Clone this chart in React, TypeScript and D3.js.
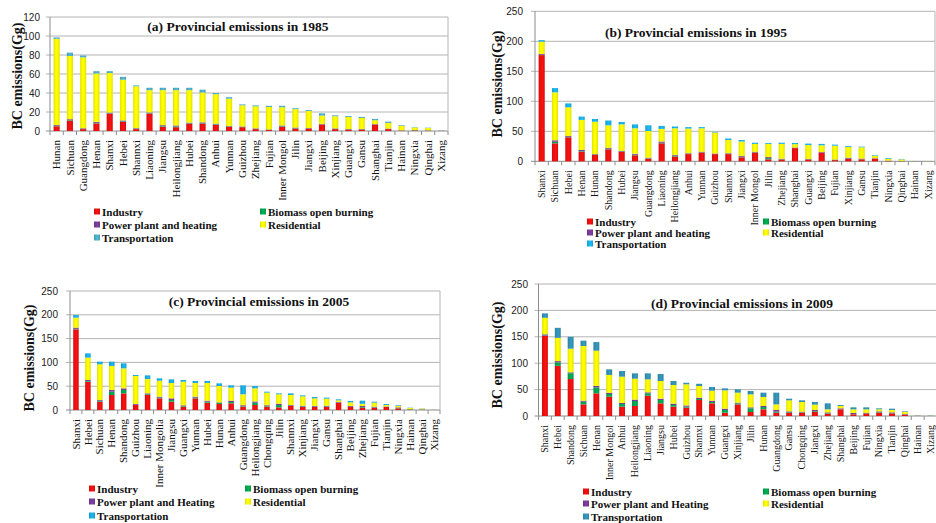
import React from 'react';
import * as d3 from 'd3';

const KEYS = ['industry', 'biomass', 'power', 'residential', 'transport'];
const BASE_COLORS: Record<string, string> = {
  industry: '#F01010',
  biomass: '#00A84F',
  power: '#7A3C9A',
  residential: '#FFFF00',
};

// ---------- (a) 1985 ----------
const catsA = ['Hunan', 'Sichuan', 'Guangdong', 'Henan', 'Shanxi', 'Hebei', 'Shannxi', 'Liaoning', 'Jiangsu', 'Heilongjiang', 'Hubei', 'Shandong', 'Anhui', 'Yunnan', 'Guizhou', 'Zhejiang', 'Fujian', 'Inner Mongol', 'Jilin', 'Jiangxi', 'Beijing', 'Xinjiang', 'Guangxi', 'Gansu', 'Shanghai', 'Tianjin', 'Hainan', 'Ningxia', 'Qinghai', 'Xizang'];
const industryA = [5, 11, 2, 8, 18, 9.5, 2, 18, 4.5, 4, 7.5, 7.5, 6.5, 4.5, 4, 2, 1, 4.5, 2.5, 2.5, 6.7, 2, 1.5, 1.5, 6.7, 2, 0.5, 0.5, 0.3, 0.1];
const biomassA = [0.5, 0.5, 0.3, 0.6, 0.4, 0.6, 0.4, 0.5, 0.6, 0.8, 0.5, 0.6, 0.5, 0.4, 0.3, 0.3, 0.3, 0.5, 0.5, 0.3, 0.2, 0.4, 0.3, 0.3, 0.1, 0.2, 0.2, 0.3, 0.3, 0.1];
const powerA = [0.8, 0.9, 0.6, 1, 1, 1, 0.6, 1, 1, 1, 0.8, 1, 0.7, 0.5, 0.5, 0.5, 0.4, 0.8, 0.6, 0.4, 0.6, 0.4, 0.3, 0.4, 0.5, 0.4, 0.1, 0.2, 0.2, 0.05];
const residentialA = [90.7, 66.6, 74.6, 50.9, 41.6, 42.9, 44, 23.5, 36.9, 37.2, 34.2, 31.4, 31, 28.6, 22.2, 23.2, 23.6, 19.2, 19.4, 17.8, 8.7, 12.7, 12.7, 11.5, 4, 5.9, 4.8, 2.8, 2.3, 0.05];
const transportA = [1.5, 3.5, 2, 2.5, 2, 3, 1, 2.5, 2.5, 2.5, 2.5, 3, 1.3, 1.6, 1, 1, 1.2, 1.5, 1, 1, 2.4, 1, 1, 1.1, 1.4, 1.4, 0.7, 0.4, 0.4, 0.2];

// ---------- (b) 1995 ----------
const catsB = ['Shanxi', 'Sichuan', 'Hebei', 'Henan', 'Hunan', 'Shandong', 'Hubei', 'Jiangsu', 'Guangdong', 'Liaoning', 'Heilongjiang', 'Anhui', 'Yunnan', 'Guizhou', 'Shannxi', 'Jiangxi', 'Inner Mongol', 'Jilin', 'Zhejiang', 'Shanghai', 'Guangxi', 'Beijing', 'Fujian', 'Xinjiang', 'Gansu', 'Tianjin', 'Ningxia', 'Qinghai', 'Hainan', 'Xizang'];
const industryB = [177, 30, 40, 16, 10.5, 20, 15.5, 10, 4.4, 30, 8, 12, 14.5, 12, 12, 6.7, 14.5, 3.3, 3, 22, 3, 14.5, 2, 3.9, 3.3, 4.4, 0.5, 0.3, 0.1, 0.05];
const biomassB = [0.5, 2.5, 0.5, 1, 0.5, 1, 0.8, 1, 0.6, 1, 1.5, 0.5, 0.5, 0.3, 0.5, 1, 0.5, 2, 0.5, 0.2, 0.5, 0.3, 0.4, 0.6, 0.4, 0.2, 0.3, 0.3, 0.1, 0.05];
const powerB = [1.5, 2.5, 1.5, 2, 1, 1.5, 1.2, 1.5, 1, 2, 1, 1, 1, 0.7, 1, 1.3, 1, 1.7, 0.8, 0.8, 0.5, 0.7, 0.6, 1.5, 0.8, 0.6, 0.5, 0.3, 0.05, 0.02];
const residentialB = [20.5, 80, 48, 50, 54, 37.5, 44, 42.5, 44.5, 21, 44.5, 41, 39, 35, 22, 24, 13, 22, 24.7, 5.5, 23, 11.2, 23, 18, 18.8, 4.3, 3, 2.3, 0.2, 0.15];
const transportB = [2.5, 7, 6.5, 5.5, 4.5, 8, 4, 6.5, 9.5, 5, 3, 2.5, 2, 1, 2.5, 2.5, 2, 1.5, 2, 2, 2.5, 2.3, 1.8, 1.5, 1.1, 1, 1.2, 0.7, 0.1, 0.05];

// ---------- (c) 2005 ----------
const catsC = ['Shanxi', 'Hebei', 'Sichuan', 'Henan', 'Shandong', 'Guizhou', 'Liaoning', 'Inner Mongolia', 'Jiangsu', 'Guangxi', 'Yunnan', 'Hubei', 'Hunan', 'Anhui', 'Guangdong', 'Heilongjiang', 'Chongqing', 'Jilin', 'Shannxi', 'Xinjiang', 'Jiangxi', 'Gansu', 'Shanghai', 'Beijing', 'Zhejiang', 'Fujian', 'Tianjin', 'Ningxia', 'Hainan', 'Qinghai', 'Xizang'];
const industryC = [169.5, 59.5, 17.5, 31.5, 35, 10.5, 31.5, 24.5, 17.5, 7, 24.5, 15.4, 12.6, 14, 7, 10.5, 7, 5.6, 8.4, 6.3, 6.3, 6.3, 15.4, 6.3, 5, 5, 6.3, 3.5, 0.5, 0.5, 0.05];
const biomassC = [1, 1.5, 2, 7, 7, 0.5, 1.5, 1.5, 3.5, 1.3, 1.5, 2.2, 2, 2.8, 1, 4.9, 1.2, 4.9, 0.8, 1.2, 1, 1.2, 0.3, 0.5, 1.4, 0.8, 0.3, 0.8, 1, 0.5, 0.1];
const powerC = [2.5, 2, 1.5, 3.5, 3.5, 1.6, 2, 2, 3.5, 1.5, 2, 2, 1.4, 2.8, 2, 2.6, 1.8, 2.8, 1.3, 1.5, 1.1, 1.5, 1.1, 1.6, 2, 1.2, 0.9, 1.3, 0.3, 0.5, 0.05];
const residentialC = [21, 47, 75, 50.5, 42, 58.8, 30, 33.6, 32.2, 49.7, 28.7, 37.1, 34.4, 27.4, 23, 27.5, 26.4, 19.7, 21, 19.7, 16.1, 14.8, 3.5, 7.6, 4.6, 8.4, 3, 3.4, 2.5, 1.5, 0.2];
const transportC = [5.5, 9, 5.5, 9, 10.5, 2.1, 7.8, 4.9, 7.7, 3.5, 4.3, 4.3, 5.6, 4.8, 18.8, 4.9, 2.1, 2, 3.5, 2.1, 2.8, 2.2, 2.1, 3, 6.6, 2.1, 2.1, 1.5, 0.6, 0.5, 0.1];

// ---------- (d) 2009 ----------
const catsD = ['Shanxi', 'Hebei', 'Shandong', 'Sichuan', 'Henan', 'Inner Mongol', 'Anhui', 'Heilongjiang', 'Liaoning', 'Jiangsu', 'Hubei', 'Guizhou', 'Shannxi', 'Yunnan', 'Guangxi', 'Xinjiang', 'Jilin', 'Hunan', 'Guangdong', 'Gansu', 'Chongqing', 'Jiangxi', 'Zhejiang', 'Shanghai', 'Beijing', 'Fujian', 'Ningxia', 'Tianjin', 'Qinghai', 'Hainan', 'Xizang'];
const industryD = [151.5, 95, 70, 22, 43, 36.6, 17.7, 19, 38.5, 24, 17.7, 15.8, 30.3, 24, 6.3, 22, 7.6, 12.6, 6.3, 5.7, 6.3, 8.2, 4.4, 12.6, 3.2, 5, 6.3, 5, 2.5, 0.2, 0.1];
const biomassD = [1, 6.6, 11, 5, 11.3, 5.1, 5, 9.4, 4.5, 6.3, 3.1, 1.9, 1.9, 2.5, 5.1, 2, 6.9, 4.4, 1.9, 1.2, 0.7, 1.3, 1, 0.3, 0.5, 0.5, 1, 0.5, 0.5, 0.2, 0.1];
const powerD = [2.2, 2.4, 1.7, 2, 2.7, 2.3, 1.9, 2.6, 1.8, 2.5, 2.6, 2.3, 2.5, 2.5, 2.5, 1.3, 1.9, 2, 3.2, 1.9, 1.2, 1.9, 1.5, 1.6, 2, 0.8, 1.5, 1.4, 0.8, 0.1, 0.05];
const residentialD = [31.3, 44, 44.8, 103.6, 66.7, 33.7, 49.9, 39.7, 24.6, 33.5, 35.3, 40, 22.1, 19, 34.7, 18.9, 24.6, 17, 10.6, 20.9, 18.3, 10.1, 5.7, 4.5, 6.9, 6.3, 3.8, 4.5, 3.8, 0.3, 0.2];
const transportD = [8.4, 19, 22.5, 10.1, 16.3, 10.7, 10.7, 10.1, 11.4, 13.2, 7.6, 3, 4.2, 7, 3.8, 6.3, 6.3, 8.2, 22.2, 3.1, 3.2, 5, 11.4, 1.8, 3.8, 3.8, 1.9, 2.5, 1.2, 0.3, 0.4];

const yTicksA = [0, 20, 40, 60, 80, 100, 120];
const yTicksBCD = [0, 50, 100, 150, 200, 250];

const SERIF = "'Liberation Serif', 'Times New Roman', serif";
const SANS = "'Liberation Sans', Arial, sans-serif";

type PanelCfg = {
  id: string;
  title: string;
  cats: string[];
  series: number[][];
  ticks: number[];
  left: number; right: number; top: number; bottom: number;
  tickLabelX: number;
  yTitleX: number; yTitleY: number;
  titleX: number; titleY: number;
  transportColor: string;
  powerLabel: string;
  catFont: number;
  legX1: number; legX2: number; legY: number[];
};

const panels: PanelCfg[] = [
  {
    id: 'a', title: '(a) Provincial emissions in 1985', cats: catsA,
    series: [industryA, biomassA, powerA, residentialA, transportA], ticks: yTicksA,
    left: 50, right: 448, top: 17, bottom: 131, tickLabelX: 40,
    yTitleX: 17, yTitleY: 76, titleX: 238, titleY: 31,
    transportColor: '#4FB0CC', powerLabel: 'Power plant and heating', catFont: 11,
    legX1: 94, legX2: 260, legY: [212, 225, 238],
  },
  {
    id: 'b', title: '(b) Provincial emissions  in 1995', cats: catsB,
    series: [industryB, biomassB, powerB, residentialB, transportB], ticks: yTicksBCD,
    left: 535, right: 935, top: 11.3, bottom: 161.3, tickLabelX: 523,
    yTitleX: 497, yTitleY: 84, titleX: 696, titleY: 37,
    transportColor: '#1AB2EA', powerLabel: 'Power plant and heating', catFont: 10,
    legX1: 587, legX2: 763, legY: [222, 233, 244],
  },
  {
    id: 'c', title: '(c) Provincial emissions in 2005', cats: catsC,
    series: [industryC, biomassC, powerC, residentialC, transportC], ticks: yTicksBCD,
    left: 70, right: 440, top: 291, bottom: 410, tickLabelX: 58,
    yTitleX: 29, yTitleY: 358, titleX: 259, titleY: 306,
    transportColor: '#1AAEE6', powerLabel: 'Power plant and Heating', catFont: 11,
    legX1: 89, legX2: 245, legY: [489, 502, 516],
  },
  {
    id: 'd', title: '(d) Provincial emissions  in 2009', cats: catsD,
    series: [industryD, biomassD, powerD, residentialD, transportD], ticks: yTicksBCD,
    left: 538.5, right: 937, top: 284, bottom: 416, tickLabelX: 528,
    yTitleX: 497, yTitleY: 355, titleX: 742, titleY: 308,
    transportColor: '#3393B5', powerLabel: 'Power plant and Heating', catFont: 10,
    legX1: 583, legX2: 763, legY: [492, 504, 517],
  },
];

function shade(c: string, k: number) {
  const col = d3.color(c)!;
  return k > 0 ? col.brighter(k).formatHex() : col.darker(-k).formatHex();
}

function Grad({ id, color }: { id: string; color: string }) {
  return (
    <linearGradient id={id} x1="0" x2="1" y1="0" y2="0">
      <stop offset="0%" stopColor={shade(color, -0.35)} />
      <stop offset="40%" stopColor={color} />
      <stop offset="60%" stopColor={shade(color, 0.15)} />
      <stop offset="100%" stopColor={shade(color, -0.35)} />
    </linearGradient>
  );
}

function Panel({ p }: { p: PanelCfg }) {
  const x = d3.scaleBand<string>().domain(p.cats).range([p.left, p.right]).paddingInner(0.54).paddingOuter(0.27);
  const maxV = p.ticks[p.ticks.length - 1];
  const y = d3.scaleLinear().domain([0, maxV]).range([p.bottom, p.top]);
  const table = p.cats.map((c, i) => {
    const row: any = { cat: c };
    KEYS.forEach((k, j) => (row[k] = p.series[j][i]));
    return row;
  });
  const stacked = d3.stack<any>().keys(KEYS)(table);
  const colors: Record<string, string> = { ...BASE_COLORS, transport: p.transportColor };
  const step = x.step();
  const bw = x.bandwidth();
  const legendItems = [
    { k: 'industry', label: 'Industry', x: p.legX1, y: p.legY[0] },
    { k: 'biomass', label: 'Biomass open burning', x: p.legX2, y: p.legY[0] },
    { k: 'power', label: p.powerLabel, x: p.legX1, y: p.legY[1] },
    { k: 'residential', label: 'Residential', x: p.legX2, y: p.legY[1] },
    { k: 'transport', label: 'Transportation', x: p.legX1, y: p.legY[2] },
  ];
  return (
    <g>
      <defs>
        {KEYS.map((k) => (
          <Grad key={k} id={`g-${p.id}-${k}`} color={colors[k]} />
        ))}
      </defs>
      {p.ticks.map((t) => (
        <g key={t}>
          <line x1={p.left - 4} x2={p.right} y1={y(t)} y2={y(t)} stroke={t === 0 ? '#8c8c8c' : '#b4b4b4'} strokeWidth={1} />
          <text x={p.tickLabelX} y={y(t)} dy="0.35em" textAnchor="end" fontFamily={SANS} fontSize={10} fill="#222">{t}</text>
        </g>
      ))}
      <line x1={p.left} x2={p.left} y1={p.top} y2={p.bottom} stroke="#8c8c8c" />
      <line x1={p.right} x2={p.right} y1={p.top} y2={p.bottom} stroke="#b4b4b4" />
      {d3.range(p.cats.length + 1).map((i) => (
        <line key={i} x1={p.left + i * step} x2={p.left + i * step} y1={p.bottom} y2={p.bottom + 4} stroke="#8c8c8c" />
      ))}
      {stacked.map((s) => (
        <g key={s.key} fill={`url(#g-${p.id}-${s.key})`}>
          {s.map((d, i) => {
            const y0 = y(d[0]);
            const y1 = y(d[1]);
            return <rect key={i} x={x(p.cats[i])!} width={bw} y={y1} height={Math.max(0, y0 - y1)} />;
          })}
        </g>
      ))}
      {p.cats.map((c) => {
        const cx = x(c)! + bw / 2;
        return (
          <text key={c} transform={`translate(${cx + p.catFont * 0.33},${p.bottom + 9}) rotate(-90)`} textAnchor="end" fontFamily={SERIF} fontSize={p.catFont} fill="#111">{c}</text>
        );
      })}
      <text x={p.titleX} y={p.titleY} textAnchor="middle" fontFamily={SERIF} fontWeight="bold" fontSize={13.5} fill="#111">{p.title}</text>
      <text transform={`translate(${p.yTitleX},${p.yTitleY}) rotate(-90)`} dy="0.35em" textAnchor="middle" fontFamily={SERIF} fontWeight="bold" fontSize={14} fill="#111">BC emissions(Gg)</text>
      {legendItems.map((l) => (
        <g key={l.k}>
          <rect x={l.x} y={l.y - 3.5} width={6} height={6} fill={`url(#g-${p.id}-${l.k})`} />
          <text x={l.x + 8} y={l.y} dy="0.35em" fontFamily={SERIF} fontWeight="bold" fontSize={11} fill="#111">{l.label}</text>
        </g>
      ))}
    </g>
  );
}

export default function App() {
  return (
    <svg width={936} height={523} style={{ position: 'absolute', left: 0, top: 0, background: '#fff' }}>
      <rect width={936} height={523} fill="#fff" />
      {panels.map((p) => (
        <Panel key={p.id} p={p} />
      ))}
    </svg>
  );
}
